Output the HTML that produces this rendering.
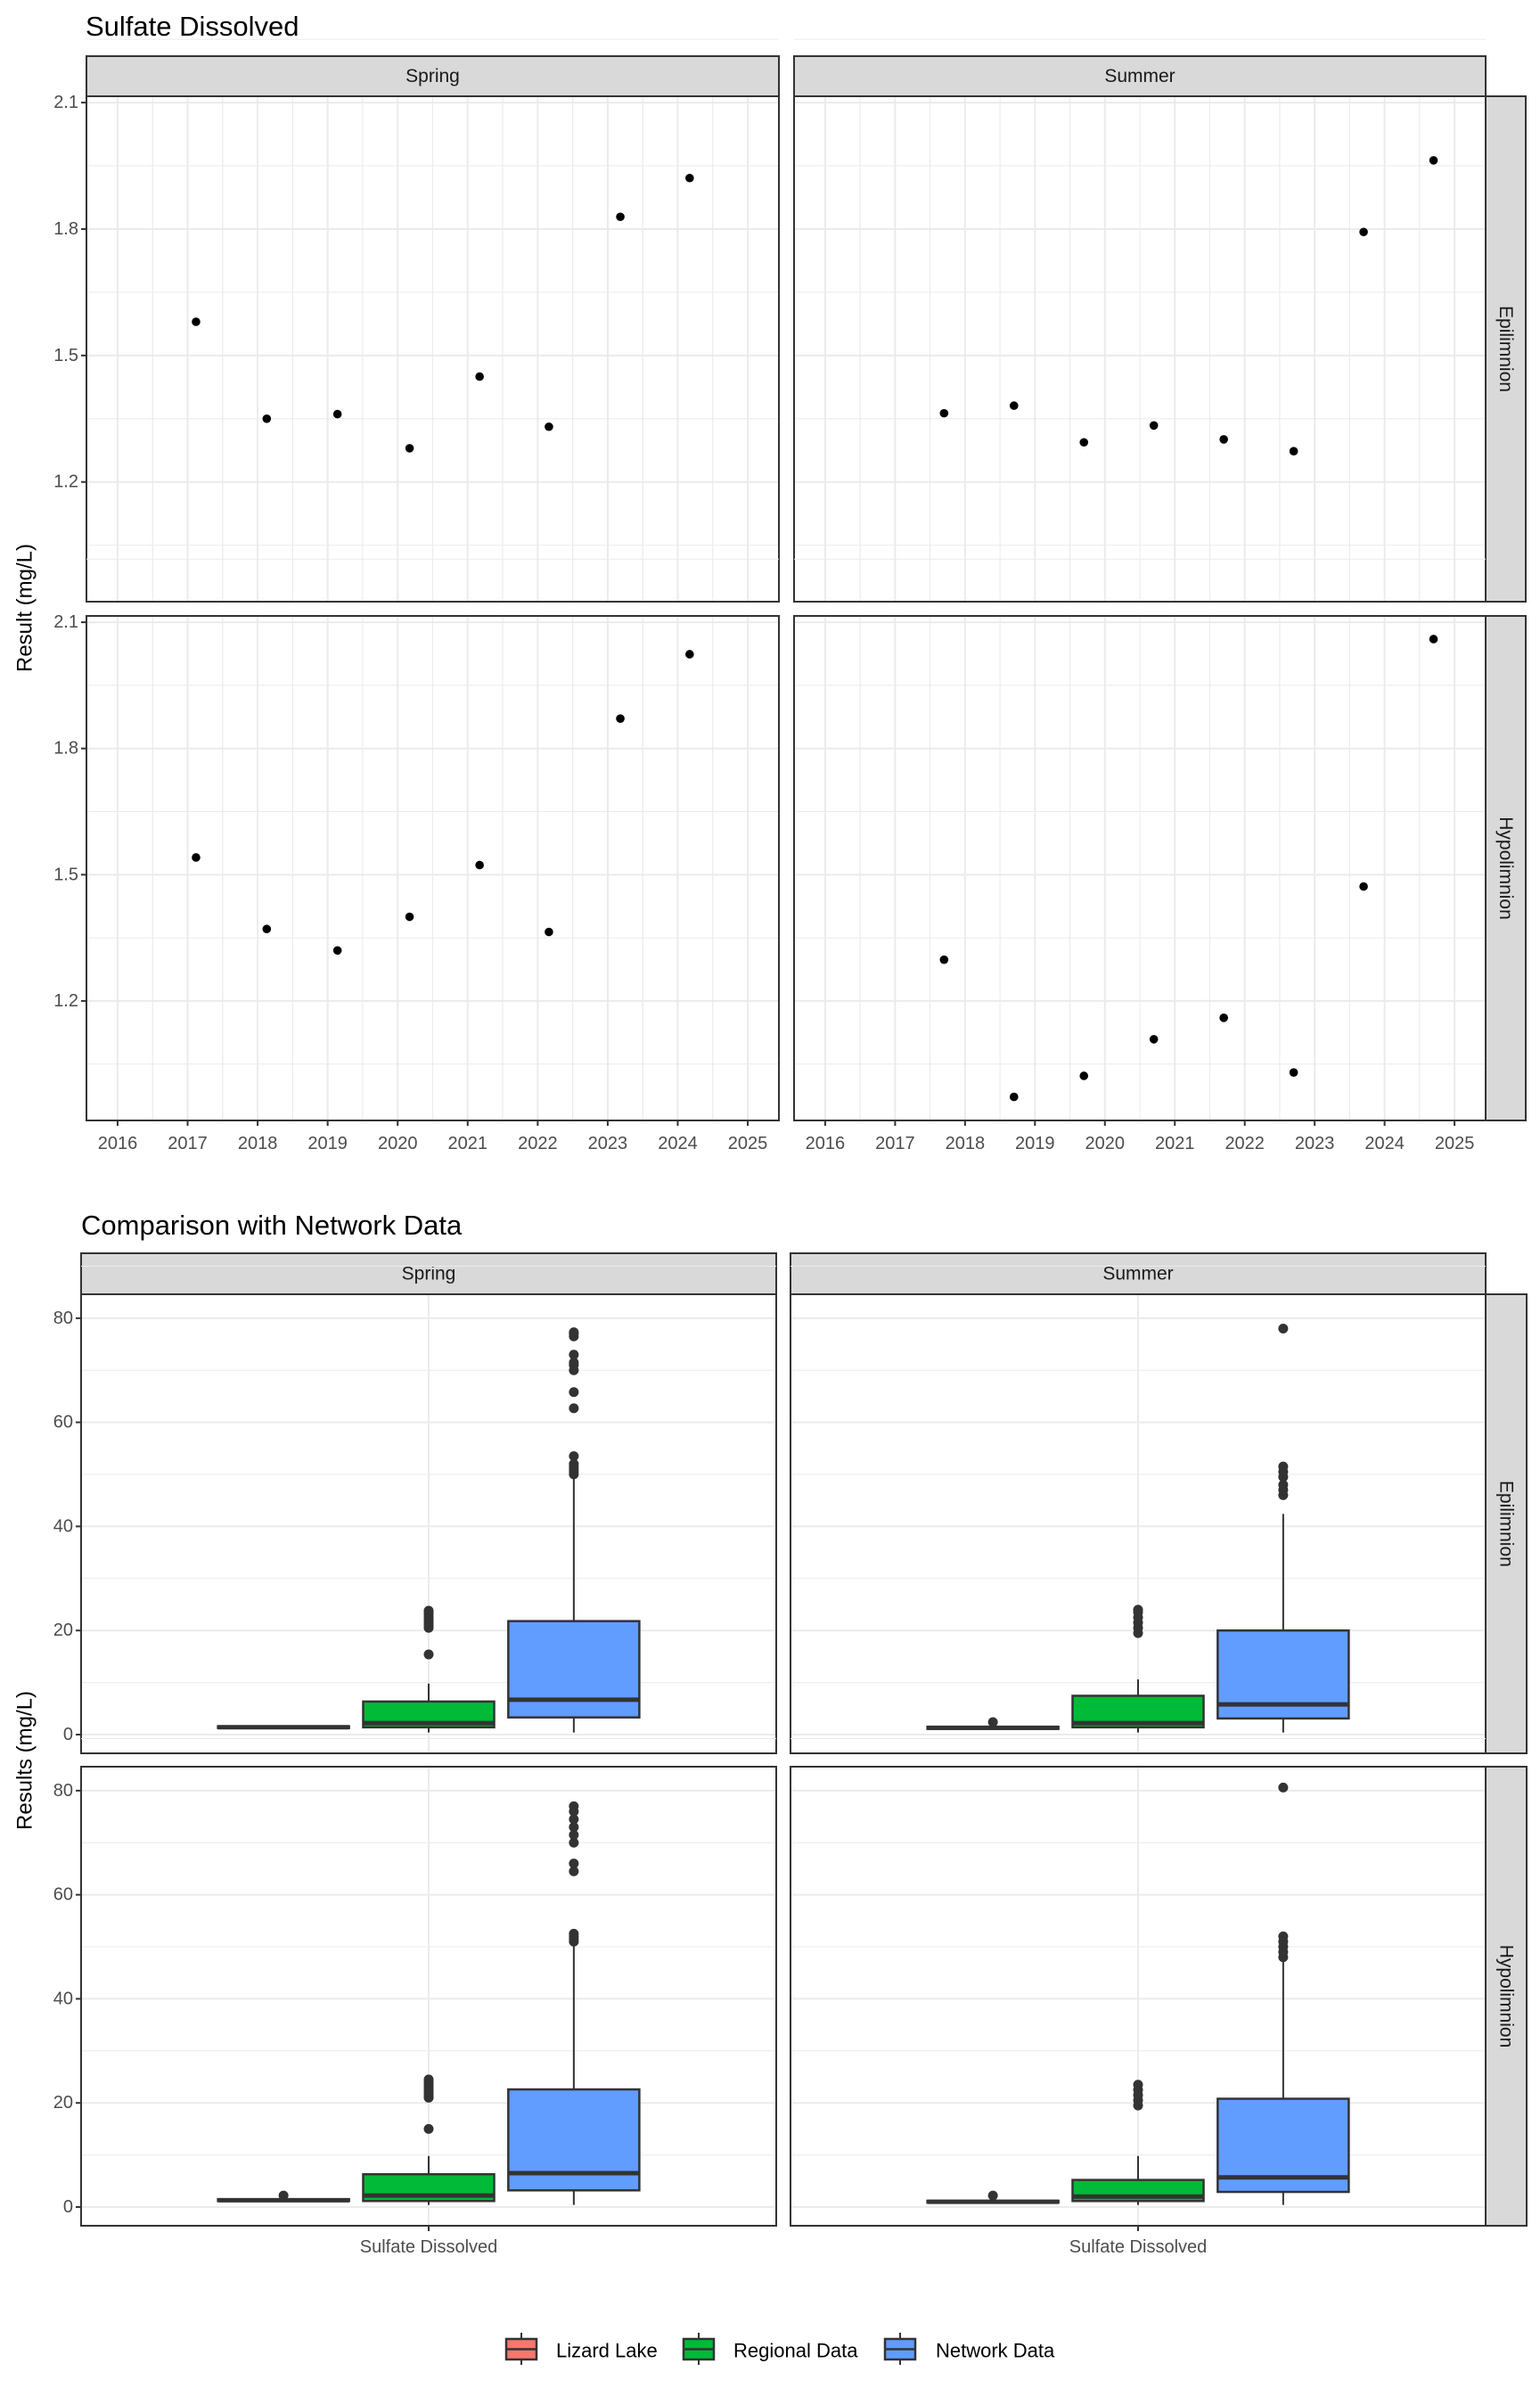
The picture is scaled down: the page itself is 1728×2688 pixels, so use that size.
<!DOCTYPE html>
<html><head><meta charset="utf-8">
<style>
html,body{margin:0;padding:0;background:#fff;}
svg{display:block;font-family:"Liberation Sans",Arial,sans-serif;}
</style></head>
<body>
<svg id="chart" width="1728" height="2688" viewBox="0 0 1728 2688" xmlns="http://www.w3.org/2000/svg">
<rect x="0" y="0" width="1728" height="2688" fill="#fff"/>
<g id="root"></g>
</svg>
<script>
// ---------- Scatter data (Sulfate Dissolved) ----------
const yearTicks = [2016,2017,2018,2019,2020,2021,2022,2023,2024,2025];
const resultTicks = [1.2,1.5,1.8,2.1];
const springEpiYears = [2017.12,2018.13,2019.14,2020.17,2021.17,2022.16,2023.18,2024.17];
const springEpiValues = [1.580,1.350,1.361,1.280,1.450,1.331,1.829,1.921];
const summerEpiYears = [2017.7,2018.7,2019.7,2020.7,2021.7,2022.7,2023.7,2024.7];
const summerEpiValues = [1.363,1.381,1.294,1.334,1.301,1.273,1.793,1.963];
const springHypoYears = [2017.12,2018.13,2019.14,2020.17,2021.17,2022.16,2023.18,2024.17];
const springHypoValues = [1.541,1.371,1.320,1.400,1.523,1.364,1.871,2.024];
const summerHypoYears = [2017.7,2018.7,2019.7,2020.7,2021.7,2022.7,2023.7,2024.7];
const summerHypoValues = [1.298,0.972,1.022,1.109,1.160,1.030,1.472,2.060];

// ---------- Box data (Comparison with Network Data) ----------
const groups = ["Lizard Lake","Regional Data","Network Data"];
const boxTicks = [0,20,40,60,80];
// [lowerWhisker, q1, median, q3, upperWhisker]
const springEpiStats = [[1.2,1.25,1.4,1.6,1.7],[0.4,1.4,2.2,6.35,9.8],[0.4,3.3,6.7,21.8,49.6]];
const springEpiOutliers = [[],[15.4,20.5,21,21.5,22,22.5,23,23.5,23.8],[50,50.5,51,51.5,52,53.5,62.7,65.8,70,71,71.5,73,76.5,77,77.3]];
const summerEpiStats = [[1.0,1.1,1.3,1.5,1.6],[0.4,1.4,2.2,7.45,10.6],[0.4,3.1,5.8,20.0,42.4]];
const summerEpiOutliers = [[2.4],[19.5,20.5,21.5,22.5,23.5,24],[46,47,48,49.5,50.5,51.5,78]];
const springHypoStats = [[1.1,1.15,1.3,1.5,1.6],[0.4,1.15,2.2,6.3,9.8],[0.4,3.2,6.5,22.6,50.7]];
const springHypoOutliers = [[2.2],[15,21,21.5,22,22.5,23,23.5,24,24.5],[51,51.5,52,52.5,64.5,66,70,71.5,73,74.5,76,77]];
const summerHypoStats = [[0.8,0.85,1.0,1.2,1.3],[0.4,1.15,2.0,5.2,9.8],[0.4,2.9,5.7,20.8,47.7]];
const summerHypoOutliers = [[2.2],[19.5,20.5,21.5,22.5,23.5],[48,49,50,51,52,80.6]];
const groupColors = ["#F8766D","#00BA38","#619CFF"];

const NS = "http://www.w3.org/2000/svg";
const root = document.getElementById('root');
function mk(tag, attrs, parent, text){
  const e = document.createElementNS(NS, tag);
  for (const k in attrs) e.setAttribute(k, attrs[k]);
  if (text !== undefined) e.textContent = text;
  (parent||root).appendChild(e);
  return e;
}
const GRIDC = "#ebebeb", TXT = "#4d4d4d", DARK = "#333333";

function strip(x, y, w, h, label, rotate, name){
  const g = mk('g', {});
  
  
  mk('rect', {x:x, y:y, width:w, height:h, fill:"#d9d9d9", stroke:DARK, 'stroke-width':2}, g);
  let t;
  if (rotate){
    const cx = x + w/2, cy = y + h/2;
    t = mk('text', {x:cx, y:cy, 'font-size':21, fill:"#1a1a1a", 'text-anchor':'middle', 'dominant-baseline':'central', transform:'rotate(90 '+cx+' '+cy+')'}, g, label);
  } else {
    t = mk('text', {x:x+w/2, y:y+h/2, 'font-size':21, fill:"#1a1a1a", 'text-anchor':'middle', 'dominant-baseline':'central'}, g, label);
  }
  
  
}

// ===== Scatter chart =====
const T = mk('text', {x:96, y:40, 'font-size':31, fill:"#000"}, root, "Sulfate Dissolved");



const sCols = [{L:97,R:874,name:'spring'},{L:891,R:1667,name:'summer'}];
const sRows = [{T:108,B:675,name:'epilimnion'},{T:691,B:1257,name:'hypolimnion'}];
const xDom = [2015.555, 2025.445], yDom = [0.916, 2.115];
const scatterSets = [[[springEpiYears,springEpiValues],[summerEpiYears,summerEpiValues]],
                     [[springHypoYears,springHypoValues],[summerHypoYears,summerHypoValues]]];

strip(97,63,777,45,"Spring",false,'strip-spring');
strip(891,63,776,45,"Summer",false,'strip-summer');
strip(1667,108,45,567,"Epilimnion",true,'strip-epilimnion');
strip(1667,691,45,566,"Hypolimnion",true,'strip-hypolimnion');

sRows.forEach((row, ri) => {
  sCols.forEach((col, ci) => {
    const xs = v => col.L + (v - xDom[0])/(xDom[1]-xDom[0])*(col.R-col.L);
    const ys = v => row.B - (v - yDom[0])/(yDom[1]-yDom[0])*(row.B-row.T);
    const g = mk('g', {});
    
    
    mk('rect', {x:col.L, y:row.T, width:col.R-col.L, height:row.B-row.T, fill:"#fff"}, g);
    // minor grid
    for (let i=0;i<resultTicks.length;i++){
      const v = resultTicks[i] - 0.15;
      if (v > yDom[0]) mk('line', {x1:col.L, x2:col.R, y1:ys(v), y2:ys(v), stroke:GRIDC, 'stroke-width':1}, g);
    }
    mk('line', {x1:col.L, x2:col.R, y1:ys(resultTicks[resultTicks.length-1]+0.15), y2:ys(resultTicks[resultTicks.length-1]+0.15), stroke:GRIDC, 'stroke-width':1}, g);
    yearTicks.forEach(yr => {
      [yr-0.5, yr+0.5].forEach(m => { if (m>xDom[0] && m<xDom[1]) mk('line', {x1:xs(m), x2:xs(m), y1:row.T, y2:row.B, stroke:GRIDC, 'stroke-width':1}, g); });
    });
    // major grid
    resultTicks.forEach(v => mk('line', {x1:col.L, x2:col.R, y1:ys(v), y2:ys(v), stroke:GRIDC, 'stroke-width':2}, g));
    yearTicks.forEach(v => mk('line', {x1:xs(v), x2:xs(v), y1:row.T, y2:row.B, stroke:GRIDC, 'stroke-width':2}, g));
    // points
    const [px, py] = scatterSets[ri][ci];
    px.forEach((x, i) => {
      const c = mk('circle', {cx:xs(x), cy:ys(py[i]), r:4.8, fill:"#000"}, g);
      
      
    });
    mk('rect', {x:col.L, y:row.T, width:col.R-col.L, height:row.B-row.T, fill:"none", stroke:DARK, 'stroke-width':2}, g);
    // y axis on left column
    if (ci === 0){
      resultTicks.forEach(v => {
        mk('line', {x1:col.L-6, x2:col.L, y1:ys(v), y2:ys(v), stroke:DARK, 'stroke-width':2}, g);
        const t = mk('text', {x:col.L-9, y:ys(v), 'font-size':20, fill:TXT, 'text-anchor':'end', 'dominant-baseline':'central'}, g, v.toFixed(1));
        
        
      });
    }
    if (ri === 1){
      yearTicks.forEach(v => {
        mk('line', {x1:xs(v), x2:xs(v), y1:row.B, y2:row.B+6, stroke:DARK, 'stroke-width':2}, g);
        const t = mk('text', {x:xs(v), y:row.B+26, 'font-size':20, fill:TXT, 'text-anchor':'middle', 'dominant-baseline':'central'}, g, String(v));
        
        
      });
    }
  });
});
const ya = mk('text', {x:28, y:682, 'font-size':24, fill:"#000", 'text-anchor':'middle', 'dominant-baseline':'central', transform:'rotate(-90 28 682)'}, root, "Result (mg/L)");



// ===== Box chart =====
const T2 = mk('text', {x:91, y:1385, 'font-size':31, fill:"#000"}, root, "Comparison with Network Data");



const bCols = [{L:91,R:871,name:'spring'},{L:887,R:1667,name:'summer'}];
const bRows = [{T:1452,B:1967,name:'epilimnion'},{T:1982,B:2497,name:'hypolimnion'}];
const bDom = [-3.6, 84.6];
const boxSets = [[[springEpiStats,springEpiOutliers],[summerEpiStats,summerEpiOutliers]],
                 [[springHypoStats,springHypoOutliers],[summerHypoStats,summerHypoOutliers]]];
strip(91,1406,780,46,"Spring",false,'box-strip-spring');
strip(887,1406,780,46,"Summer",false,'box-strip-summer');
strip(1667,1452,46,515,"Epilimnion",true,'box-strip-epilimnion');
strip(1667,1982,46,515,"Hypolimnion",true,'box-strip-hypolimnion');

bRows.forEach((row, ri) => {
  bCols.forEach((col, ci) => {
    const ys = v => row.B - (v - bDom[0])/(bDom[1]-bDom[0])*(row.B-row.T);
    const cx = (col.L + col.R)/2;
    const pw = col.R - col.L;
    const bw = pw * 0.1885;
    const dodge = pw * 0.2088;
    const g = mk('g', {});
    
    
    mk('rect', {x:col.L, y:row.T, width:pw, height:row.B-row.T, fill:"#fff"}, g);
    boxTicks.forEach(v => { mk('line', {x1:col.L, x2:col.R, y1:ys(v+10), y2:ys(v+10), stroke:GRIDC, 'stroke-width':1}, g); });
    boxTicks.forEach(v => mk('line', {x1:col.L, x2:col.R, y1:ys(v), y2:ys(v), stroke:GRIDC, 'stroke-width':2}, g));
    mk('line', {x1:cx, x2:cx, y1:row.T, y2:row.B, stroke:GRIDC, 'stroke-width':2}, g);
    const [stats, outs] = boxSets[ri][ci];
    stats.forEach((s, gi) => {
      const gx = cx + (gi-1)*dodge;
      const bg = mk('g', {}, g);
      
      
      mk('line', {x1:gx, x2:gx, y1:ys(s[0]), y2:ys(s[1]), stroke:DARK, 'stroke-width':2}, bg);
      mk('line', {x1:gx, x2:gx, y1:ys(s[3]), y2:ys(s[4]), stroke:DARK, 'stroke-width':2}, bg);
      mk('rect', {x:gx-bw/2, y:ys(s[3]), width:bw, height:Math.max(ys(s[1])-ys(s[3]),0.5), fill:groupColors[gi], stroke:DARK, 'stroke-width':2.5}, bg);
      mk('line', {x1:gx-bw/2, x2:gx+bw/2, y1:ys(s[2]), y2:ys(s[2]), stroke:DARK, 'stroke-width':5}, bg);
      outs[gi].forEach(o => {
        const c = mk('circle', {cx:gx, cy:ys(o), r:5.5, fill:DARK}, bg);
        
        
      });
    });
    mk('rect', {x:col.L, y:row.T, width:pw, height:row.B-row.T, fill:"none", stroke:DARK, 'stroke-width':2}, g);
    if (ci === 0){
      boxTicks.forEach(v => {
        mk('line', {x1:col.L-6, x2:col.L, y1:ys(v), y2:ys(v), stroke:DARK, 'stroke-width':2}, g);
        const t = mk('text', {x:col.L-9, y:ys(v), 'font-size':20, fill:TXT, 'text-anchor':'end', 'dominant-baseline':'central'}, g, String(v));
        
        
      });
    }
    if (ri === 1){
      mk('line', {x1:cx, x2:cx, y1:row.B, y2:row.B+6, stroke:DARK, 'stroke-width':2}, g);
      const t = mk('text', {x:cx, y:row.B+24, 'font-size':20, fill:TXT, 'text-anchor':'middle', 'dominant-baseline':'central'}, g, "Sulfate Dissolved");
      
      
    }
  });
});
const yb = mk('text', {x:28, y:1975, 'font-size':24, fill:"#000", 'text-anchor':'middle', 'dominant-baseline':'central', transform:'rotate(-90 28 1975)'}, root, "Results (mg/L)");



// ===== Legend =====
const legX = [568, 767, 993];
const legLabelX = [624, 823, 1050];
const lg = mk('g', {});


groups.forEach((name, i) => {
  const e = mk('g', {}, lg);
  
  
  const kx = legX[i], kc = kx + 17;
  mk('line', {x1:kc, x2:kc, y1:2617, y2:2653, stroke:DARK, 'stroke-width':2}, e);
  mk('rect', {x:kx, y:2624, width:34, height:23, fill:groupColors[i], stroke:DARK, 'stroke-width':2.5}, e);
  mk('line', {x1:kx, x2:kx+34, y1:2635.5, y2:2635.5, stroke:DARK, 'stroke-width':2.5}, e);
  mk('text', {x:legLabelX[i], y:2637, 'font-size':22, fill:"#000", 'dominant-baseline':'central'}, e, name);
});
</script>
</body></html>
